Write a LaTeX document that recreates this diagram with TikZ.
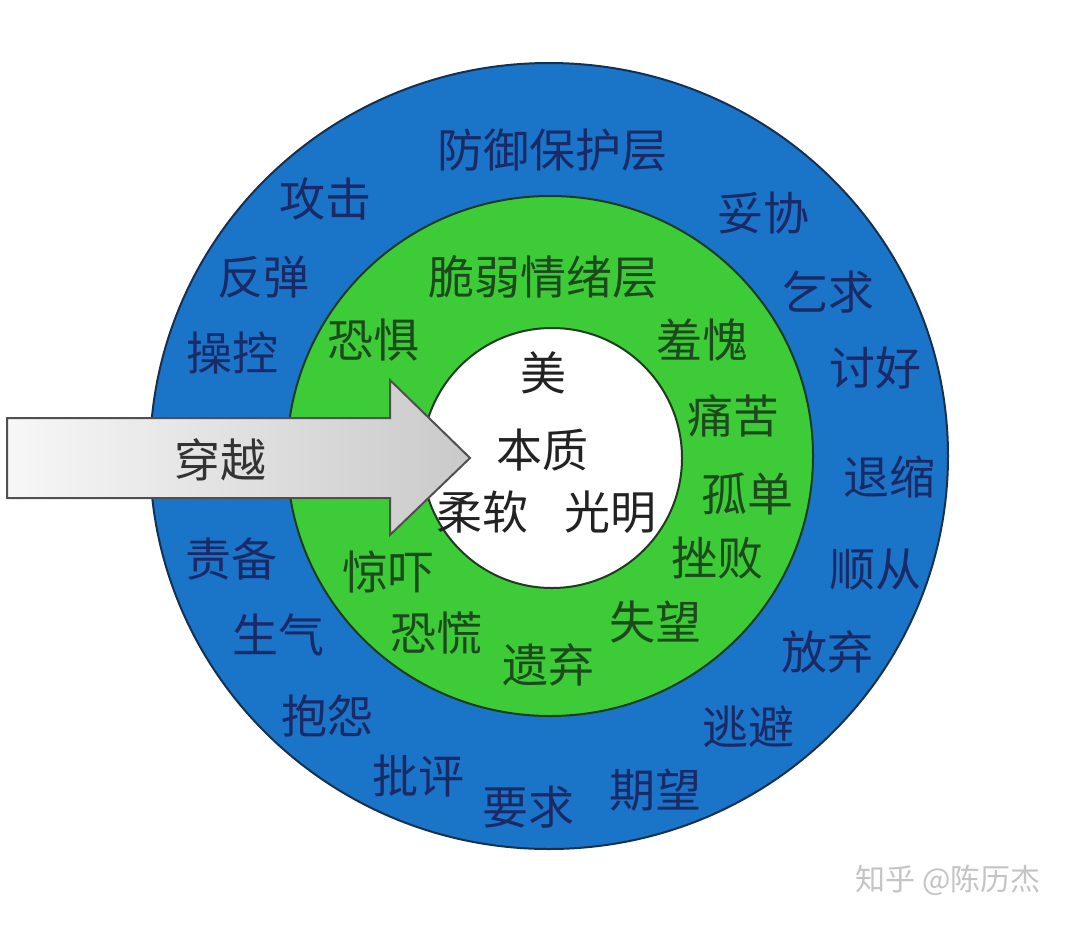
\documentclass[tikz,border=0pt]{standalone}
\usepackage{fontspec}
\newfontfamily\cjk{Noto Sans CJK SC}
\definecolor{ringblue}{HTML}{1A74C8}
\definecolor{ringgreen}{HTML}{3DCC38}
\definecolor{blueedge}{HTML}{16304F}
\definecolor{greenedge}{HTML}{1E3C1E}
\definecolor{navytxt}{HTML}{1A2A66}
\definecolor{darkgreentxt}{HTML}{1C4A1C}
\definecolor{coretxt}{HTML}{222222}
\definecolor{arrowedge}{HTML}{505050}
\definecolor{marktxt}{HTML}{C4C4C4}
\begin{document}
\begin{tikzpicture}[x=1pt,y=-1pt,
  lbl/.style={font=\cjk\fontsize{46}{46}\selectfont, inner sep=0pt},
  bluelbl/.style={lbl, text=navytxt},
  greenlbl/.style={lbl, text=darkgreentxt},
  corelbl/.style={lbl, text=coretxt},
  ring/.style={line width=2pt}]
\path[fill=white] (0,0) rectangle (1076,924);
\useasboundingbox (0,0) rectangle (1076,924);
% rings
\coordinate (c) at (549,456);
\path[ring, draw=blueedge, fill=ringblue] (c) ellipse [x radius=399pt, y radius=393pt];
\path[ring, draw=greenedge, fill=ringgreen] (550,456) ellipse [x radius=263pt, y radius=260pt];
\path[ring, draw=greenedge, fill=white] (552,458) circle [radius=130pt];
% outer layer labels
\node[bluelbl] (b0) at (552,150) {防御保护层};
\node[bluelbl] (b1) at (325,199) {攻击};
\node[bluelbl] (b2) at (763,213) {妥协};
\node[bluelbl] (b3) at (263,277) {反弹};
\node[bluelbl] (b4) at (828,292) {乞求};
\node[bluelbl] (b5) at (232,353) {操控};
\node[bluelbl] (b6) at (875,368) {讨好};
\node[bluelbl] (b7) at (889,477) {退缩};
\node[bluelbl] (b8) at (231,559) {责备};
\node[bluelbl] (b9) at (875,570) {顺从};
\node[bluelbl] (b10) at (278,635) {生气};
\node[bluelbl] (b11) at (827,652) {放弃};
\node[bluelbl] (b12) at (327,716) {抱怨};
\node[bluelbl] (b13) at (748,727) {逃避};
\node[bluelbl] (b14) at (418,776) {批评};
\node[bluelbl] (b15) at (655,790) {期望};
\node[bluelbl] (b16) at (528,807) {要求};
% middle layer labels
\node[greenlbl] (g0) at (543,277) {脆弱情绪层};
\node[greenlbl] (g1) at (373,340) {恐惧};
\node[greenlbl] (g2) at (702,340) {羞愧};
\node[greenlbl] (g3) at (733,416) {痛苦};
\node[greenlbl] (g4) at (747,494) {孤单};
\node[greenlbl] (g5) at (717,558) {挫败};
\node[greenlbl] (g6) at (388,572) {惊吓};
\node[greenlbl] (g7) at (436,633) {恐慌};
\node[greenlbl] (g8) at (655,622) {失望};
\node[greenlbl] (g9) at (548,665) {遗弃};
% core labels
\node[corelbl] (w0) at (543,373) {美};
\node[corelbl] (w1) at (542,450) {本质};
\node[corelbl] (w2) at (482,512) {柔软};
\node[corelbl] (w3) at (610,512) {光明};
% arrow
\path[draw=arrowedge, line width=2pt, line join=miter, left color=gray!6, right color=gray!42]
  (7,418) -- (390,418) -- (390,380) -- (470,458) -- (390,535) -- (390,498) -- (7,498) -- cycle;
\node[corelbl, text=black!80] (arr) at (220,460) {穿越};
% watermark
\node[font=\cjk\fontsize{30}{30}\selectfont, text=marktxt, inner sep=0pt] (mark) at (948,880) {知乎 @陈历杰};
\end{tikzpicture}
\end{document}
